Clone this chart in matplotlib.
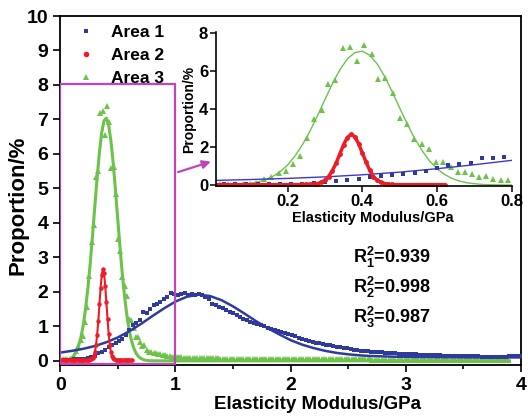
import numpy as np
import matplotlib.pyplot as plt
from matplotlib.patches import Rectangle

plt.rcParams['font.family'] = ['Liberation Sans', 'DejaVu Sans']
plt.rcParams['font.weight'] = 'bold'
plt.rcParams['mathtext.fontset'] = 'custom'
plt.rcParams['mathtext.rm'] = 'Liberation Sans:bold'
plt.rcParams['mathtext.it'] = 'Liberation Sans:bold'
plt.rcParams['mathtext.bf'] = 'Liberation Sans:bold'

# Area 1 (blue) - measured proportions, bins every 0.03 GPa starting at 0.03
blue_y = [0.03, 0.03, 0.03, 0.04, 0.04, 0.05, 0.06, 0.08, 0.11, 0.15,
          0.22, 0.27, 0.31, 0.40, 0.47, 0.52, 0.58, 0.64, 0.74, 0.90,
          1.05, 1.10, 1.18, 1.42, 1.40, 1.50, 1.62, 1.66, 1.72, 1.78,
          1.86, 1.98, 1.95, 1.90, 1.93, 1.97, 1.92, 1.94, 1.91, 1.93,
          1.90, 1.86, 1.80, 1.66, 1.62, 1.55, 1.52, 1.48, 1.43, 1.38,
          1.32, 1.27, 1.22, 1.18, 1.14, 1.10, 1.07, 1.04, 1.00, 0.96,
          0.93, 0.90, 0.87, 0.84, 0.81, 0.78, 0.75, 0.71, 0.67, 0.64,
          0.61, 0.58, 0.56, 0.53, 0.51, 0.49, 0.47, 0.46, 0.44, 0.41,
          0.39, 0.37, 0.36, 0.34, 0.32, 0.31, 0.30, 0.29, 0.28, 0.27,
          0.26, 0.26, 0.25, 0.24, 0.23, 0.23, 0.22, 0.21, 0.21, 0.20,
          0.20, 0.19, 0.19, 0.18, 0.18, 0.17, 0.17, 0.16, 0.16, 0.16,
          0.15, 0.15, 0.15, 0.14, 0.14, 0.14, 0.14, 0.13, 0.13, 0.13,
          0.13, 0.12, 0.12, 0.12, 0.12, 0.12, 0.12, 0.12, 0.12, 0.13,
          0.13, 0.13, 0.14]
blue_x = 0.03 * np.arange(1, len(blue_y) + 1)

# Area 1 fit
blue_fit_x = np.round(np.arange(0, 4.01, 0.1), 2)
blue_fit_y = [0.24, 0.29, 0.35, 0.43, 0.54, 0.68, 0.86, 1.07, 1.30, 1.52,
              1.72, 1.86, 1.92, 1.88, 1.76, 1.58, 1.37, 1.15, 0.95, 0.77,
              0.60, 0.47, 0.37, 0.29, 0.23, 0.19, 0.16, 0.14, 0.13, 0.12,
              0.115, 0.11, 0.11, 0.105, 0.105, 0.10, 0.10, 0.10, 0.10, 0.10,
              0.10]

# Area 2 (red), bins every 0.01 GPa from 0
red_y = [0.02, 0.02, 0.02, 0.02, 0.02, 0.02, 0.02, 0.02, 0.02, 0.02,
         0.02, 0.02, 0.02, 0.02, 0.02, 0.02, 0.02, 0.02, 0.02, 0.02,
         0.02, 0.02, 0.02, 0.02, 0.03, 0.03, 0.04, 0.05, 0.08, 0.14,
         0.25, 0.45, 0.76, 1.15, 1.64, 2.12, 2.50, 2.66, 2.55, 2.18,
         1.70, 1.22, 0.78, 0.45, 0.25, 0.14, 0.08, 0.05, 0.03, 0.02,
         0.02, 0.02, 0.02, 0.02, 0.02, 0.02, 0.02, 0.02, 0.02, 0.02,
         0.02, 0.02, 0.02]
red_x = 0.01 * np.arange(len(red_y))

# Area 3 (green) - peak region
green_x = [0.020, 0.041, 0.060, 0.081, 0.099, 0.117, 0.138, 0.157, 0.177, 0.195,
           0.215, 0.233, 0.253, 0.272, 0.291, 0.309, 0.328, 0.348, 0.367, 0.387,
           0.405, 0.425, 0.443, 0.462, 0.481, 0.501, 0.520, 0.539, 0.559, 0.578,
           0.597, 0.617, 0.637, 0.655, 0.675, 0.693, 0.712, 0.731, 0.751, 0.770,
           0.789]
green_y = [0.05, 0.05, 0.05, 0.05, 0.06, 0.12, 0.30, 0.44, 0.61, 0.72,
           1.13, 1.55, 2.46, 3.45, 3.95, 5.32, 5.52, 7.20, 7.24, 6.55,
           7.38, 6.92, 5.58, 5.62, 4.83, 3.54, 3.19, 2.44, 2.18, 1.89,
           1.22, 1.19, 0.96, 0.70, 0.70, 0.56, 0.44, 0.47, 0.31, 0.26,
           0.26]
# Area 3 tail, every 0.02 GPa from 0.81
green_tail_y = [0.24, 0.22, 0.20, 0.19, 0.17, 0.16, 0.14, 0.13, 0.12, 0.11,
                0.11, 0.10, 0.10, 0.09, 0.09, 0.09, 0.09, 0.08, 0.08, 0.08,
                0.08, 0.08, 0.07, 0.07, 0.07, 0.07, 0.07, 0.07, 0.07, 0.06,
                0.06, 0.06, 0.06, 0.06, 0.06, 0.06, 0.06, 0.06, 0.06, 0.06,
                0.06, 0.05, 0.05, 0.05, 0.05, 0.05, 0.05, 0.05, 0.05, 0.05,
                0.05, 0.05, 0.05, 0.05, 0.05, 0.05, 0.05, 0.05, 0.05, 0.05,
                0.04, 0.04, 0.04, 0.04, 0.04, 0.04, 0.04, 0.04, 0.04, 0.04,
                0.04, 0.04, 0.04, 0.04, 0.04, 0.04, 0.04, 0.04, 0.04, 0.04,
                0.04, 0.04, 0.04, 0.04, 0.04, 0.04, 0.04, 0.04, 0.04, 0.04,
                0.04, 0.04, 0.04, 0.04, 0.04, 0.03, 0.03, 0.03, 0.03, 0.03,
                0.03, 0.03, 0.03, 0.03, 0.03, 0.03, 0.03, 0.03, 0.03, 0.03,
                0.03, 0.03, 0.03, 0.03, 0.03, 0.03, 0.03, 0.03, 0.03, 0.03,
                0.03, 0.03, 0.03, 0.03, 0.03, 0.03, 0.03, 0.03, 0.03, 0.03,
                0.03, 0.03, 0.03, 0.03, 0.03, 0.03, 0.03, 0.03, 0.03, 0.03,
                0.03, 0.03, 0.03, 0.03, 0.03, 0.03, 0.03, 0.03, 0.03, 0.03,
                0.03, 0.03, 0.03, 0.03, 0.03]
green_tail_x = 0.81 + 0.02 * np.arange(len(green_tail_y))

# Area 3 fit
green_fit_x = [0.00, 0.02, 0.04, 0.06, 0.08, 0.10, 0.12, 0.14, 0.16, 0.18,
               0.20, 0.22, 0.24, 0.26, 0.28, 0.30, 0.32, 0.34, 0.36, 0.38,
               0.40, 0.42, 0.44, 0.46, 0.48, 0.50, 0.52, 0.54, 0.56, 0.58,
               0.60, 0.62, 0.64, 0.66, 0.68, 0.70, 0.72, 0.74, 0.76, 0.78,
               0.80, 1.0, 2.0, 3.0, 3.9]
green_fit_y = [0.003, 0.006, 0.013, 0.026, 0.049, 0.091, 0.161, 0.27, 0.45, 0.70,
               1.05, 1.53, 2.12, 2.83, 3.64, 4.49, 5.32, 6.06, 6.63, 6.97,
               7.04, 6.83, 6.37, 5.71, 4.91, 4.06, 3.23, 2.46, 1.81, 1.27,
               0.86, 0.56, 0.35, 0.21, 0.12, 0.07, 0.036, 0.018, 0.009, 0.004,
               0.002, 0.0, 0.0, 0.0, 0.0]

r2_labels = [r'R$_1^2$=0.939', r'R$_2^2$=0.998', r'R$_3^2$=0.987']

c_blue = '#2e3a9e'
c_red = '#ee1c24'
c_green = '#6cc24a'
c_mag = '#bf45bf'

fig = plt.figure(figsize=(5.28, 4.18), dpi=100)
ax = fig.add_axes([0.1142, 0.1268, 0.8725, 0.8349])

ax.plot(green_fit_x, green_fit_y, '-', color=c_green, lw=2.2, zorder=2)
ax.plot(green_x, green_y, '^', color=c_green, ms=3.8, mew=0, zorder=2)
ax.plot(green_tail_x, green_tail_y, '^', color=c_green, ms=3.8, mew=0, zorder=2)
ax.plot(blue_fit_x, blue_fit_y, '-', color=c_blue, lw=1.8, zorder=3)
ax.plot(blue_x, blue_y, 's', color=c_blue, ms=3.2, mew=0, zorder=3)
ax.plot(red_x, red_y, '-o', color=c_red, lw=1.5, ms=3.2, mew=0, zorder=4)

ax.set_xlim(0, 4)
ax.set_ylim(-0.12, 10)
ax.set_xticks([0, 1, 2, 3, 4])
ax.set_xticks([0.5, 1.5, 2.5, 3.5], minor=True)
ax.set_yticks(range(0, 11))
ax.tick_params(which='both', direction='out', labelsize=14, width=1.2)
ax.tick_params(which='major', length=5)
ax.tick_params(which='minor', length=3)
ax.tick_params(axis='x', which='major', pad=4)
for s in ax.spines.values():
    s.set_linewidth(1.3)
ax.set_xlabel('Elasticity Modulus/GPa', fontsize=13.5, fontweight='bold', va='top')
ax.xaxis.set_label_coords(0.559, -0.089)
ax.set_ylabel('Proportion/%', fontsize=16, fontweight='bold', va='center')
ax.yaxis.set_label_coords(-0.092, 0.458)

# magenta zoom box and arrow
ax.add_patch(Rectangle((0, -0.09), 1.0, 8.11, fill=False, ec=c_mag, lw=1.6, zorder=5))
ax.annotate('', xy=(1.33, 5.8), xytext=(1.0, 5.45),
            arrowprops=dict(arrowstyle='-|>', color=c_mag, lw=1.6, mutation_scale=12))

# legend
h1, = ax.plot([], [], 's', color=c_blue, ms=3, mew=0)
h2, = ax.plot([], [], 'o', color=c_red, ms=4, mew=0)
h3, = ax.plot([], [], '^', color=c_green, ms=5, mew=0)
ax.legend([h1, h2, h3], ['Area 1', 'Area 2', 'Area 3'], loc='upper left',
          bbox_to_anchor=(0.0, 1.01), frameon=False, fontsize=12.5,
          handlelength=1.6, handletextpad=0.6, labelspacing=0.45, borderaxespad=0.3)

for i, lab in enumerate(r2_labels):
    ax.text(2.54, 2.99 - 0.87 * i, lab, fontsize=13, fontweight='bold', va='center', ha='left')

# inset
axi = fig.add_axes([0.410, 0.555, 0.5593, 0.3684])
axi.patch.set_alpha(0)
axi.plot(green_fit_x, green_fit_y, '-', color=c_green, lw=1.0)
axi.plot(green_x, green_y, '^', color=c_green, ms=4.5, mew=0)
axi.plot(blue_fit_x, blue_fit_y, '-', color='#3a3ad0', lw=1.0)
axi.plot(blue_x, blue_y, 's', color=c_blue, ms=3.2, mew=0)
axi.plot(red_x, red_y, '-o', color=c_red, lw=2.5, ms=3.5, mew=0)
axi.set_xlim(0.01, 0.8)
axi.set_ylim(-0.05, 8.05)
axi.set_xticks([0.2, 0.4, 0.6, 0.8])
axi.set_yticks([0, 2, 4, 6, 8])
axi.spines['top'].set_visible(False)
axi.spines['right'].set_visible(False)
for s in ['left', 'bottom']:
    axi.spines[s].set_linewidth(1.2)
axi.tick_params(direction='out', labelsize=12, length=4, width=1.1, pad=2)
axi.set_xlabel('Elasticity Modulus/GPa', fontsize=10.5, fontweight='bold', va='top')
axi.xaxis.set_label_coords(0.53, -0.165)
axi.set_ylabel('Proportion/%', fontsize=10, fontweight='bold', labelpad=2)

fig.savefig('out.png', dpi=100)
